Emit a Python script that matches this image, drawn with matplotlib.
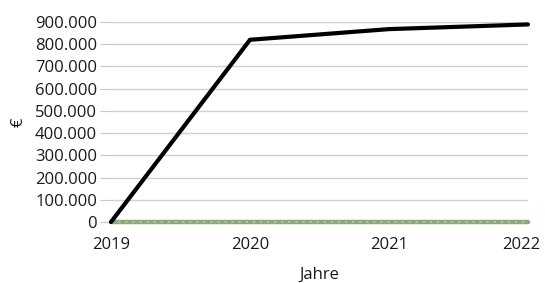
import matplotlib
matplotlib.use("Agg")
import matplotlib.pyplot as plt
import matplotlib.transforms as mtrans
from matplotlib.ticker import FuncFormatter

years = [2019, 2020, 2021, 2022]
series_total = [0, 820000, 868000, 889000]
series_zero = [0, 0, 0, 0]
yticks = list(range(0, 900001, 100000))

plt.rcParams['font.family'] = ['Open Sans', 'DejaVu Sans']

fig = plt.figure(figsize=(5.45, 2.83), dpi=100)
ax = fig.add_axes([111/545, 1-222/283, (528-111)/545, 200/283])

for y in yticks:
    ax.axhline(y, color='#d0d0d0', lw=1, zorder=0)

ax.plot(years, series_zero, color='#86a87a', lw=3.2, zorder=2, clip_on=False, solid_capstyle='round')
ax.plot(years, series_zero, color='#a9c39d', lw=1.5, ls=(0, (1.2, 2.2)), zorder=3, clip_on=False)
ax.plot(years, series_total, color='black', lw=3, zorder=4, clip_on=False, solid_capstyle='round')

fs = 12
ax.set_xlim(2019, 2022)
ax.set_ylim(0, 900000)
ax.set_xticks(years)
ax.set_yticks(yticks)
ax.yaxis.set_major_formatter(FuncFormatter(lambda v, p: f"{int(v):,}".replace(",", ".")))
ax.tick_params(axis='y', length=8, color='#c8c8c8', labelsize=fs, pad=2, labelcolor='#1a1a1a')
ax.tick_params(axis='x', length=0, labelsize=fs, pad=11, labelcolor='#1a1a1a')
for s in ax.spines.values():
    s.set_visible(False)

lbl = ax.get_xticklabels()[-1]
lbl.set_transform(lbl.get_transform() + mtrans.ScaledTranslation(-5/72, 0, fig.dpi_scale_trans))

ax.set_xlabel('Jahre', fontsize=fs, labelpad=10, color='#1a1a1a')
fig.text(19/545, 1-122/283, '€', rotation=90, ha='center', va='center', fontsize=fs, color='#1a1a1a')

fig.savefig('out.png', dpi=100)
